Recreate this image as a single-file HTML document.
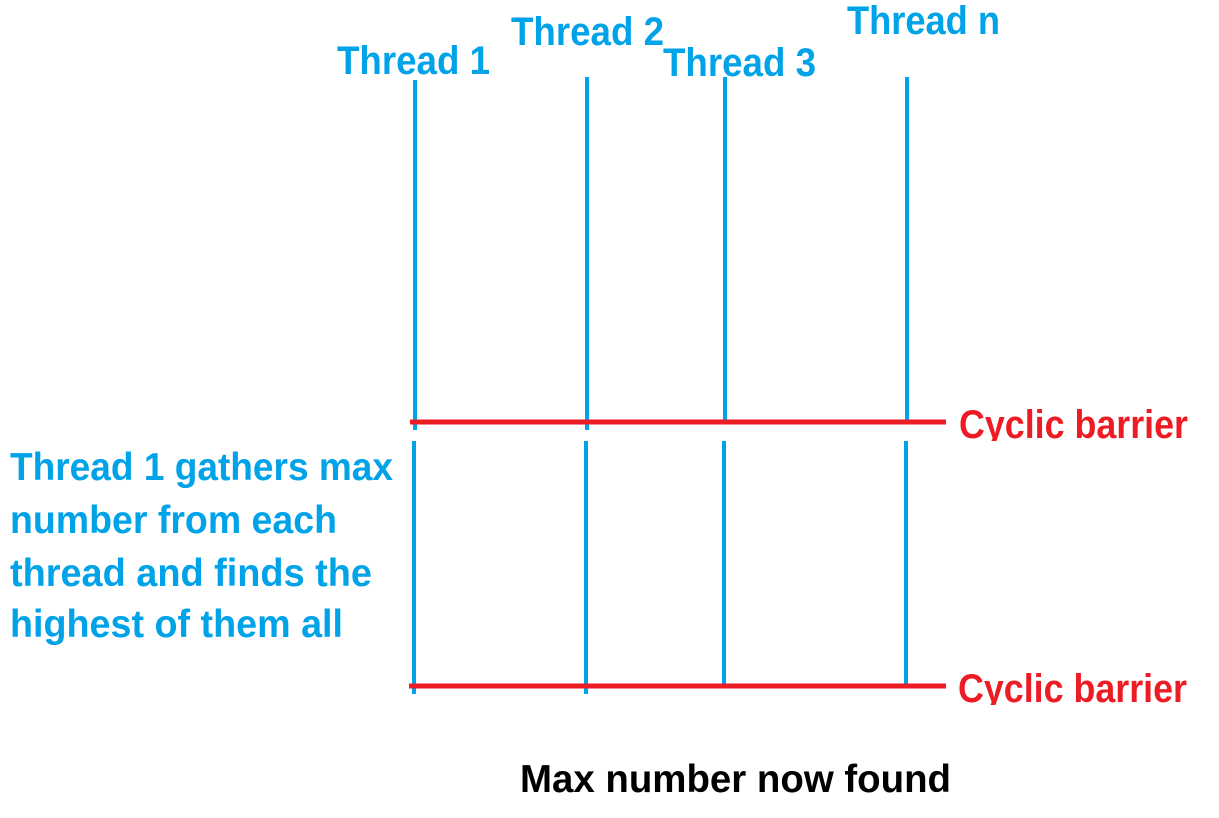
<!DOCTYPE html>
<html><head><meta charset="utf-8"><style>
html,body{margin:0;padding:0;background:#fff;width:1219px;height:818px;overflow:hidden}
svg{display:block}
text{font-family:"Liberation Sans",sans-serif;font-weight:bold}
.b{fill:#00a2e8}.r{fill:#ed1c24}
</style></head><body>
<svg width="1219" height="818" viewBox="0 0 1219 818">
<g>
<text class="b" x="337" y="74" font-size="40" textLength="153" lengthAdjust="spacingAndGlyphs">Thread 1</text>
<text class="b" x="511" y="45" font-size="40" textLength="153" lengthAdjust="spacingAndGlyphs">Thread 2</text>
<text class="b" x="663" y="76" font-size="40" textLength="153" lengthAdjust="spacingAndGlyphs">Thread 3</text>
<text class="b" x="847" y="34" font-size="40" textLength="153" lengthAdjust="spacingAndGlyphs">Thread n</text>
</g>
<g stroke="#00a2e8" stroke-width="4">
<line x1="415" y1="80" x2="415" y2="430"/>
<line x1="587" y1="77" x2="587" y2="430"/>
<line x1="725" y1="77" x2="725" y2="420"/>
<line x1="907" y1="77" x2="907" y2="420"/>
<line x1="414" y1="441" x2="414" y2="694"/>
<line x1="586" y1="441" x2="586" y2="694"/>
<line x1="724" y1="441" x2="724" y2="684"/>
<line x1="906" y1="441" x2="906" y2="684"/>
</g>
<line x1="410" y1="422" x2="946" y2="422" stroke="#ed1c24" stroke-width="5"/>
<line x1="409" y1="686" x2="946" y2="686" stroke="#ed1c24" stroke-width="5"/>
<text class="r" x="959" y="438" font-size="40" textLength="229" lengthAdjust="spacingAndGlyphs">Cyclic barrier</text>
<rect x="950" y="441" width="260" height="16" fill="#fff"/>
<text class="r" x="958" y="702" font-size="40" textLength="229" lengthAdjust="spacingAndGlyphs">Cyclic barrier</text>
<rect x="950" y="705" width="260" height="16" fill="#fff"/>
<g>
<text class="b" x="10" y="480" font-size="39" textLength="383" lengthAdjust="spacingAndGlyphs">Thread 1 gathers max</text>
<text class="b" x="10" y="533" font-size="39" textLength="327" lengthAdjust="spacingAndGlyphs">number from each</text>
<text class="b" x="10" y="586" font-size="39" textLength="362" lengthAdjust="spacingAndGlyphs">thread and finds the</text>
<text class="b" x="10" y="637" font-size="39" textLength="333" lengthAdjust="spacingAndGlyphs">highest of them all</text>
</g>
<text x="520" y="792" font-size="39" fill="#000" textLength="431" lengthAdjust="spacingAndGlyphs">Max number now found</text>
</svg>
</body></html>
